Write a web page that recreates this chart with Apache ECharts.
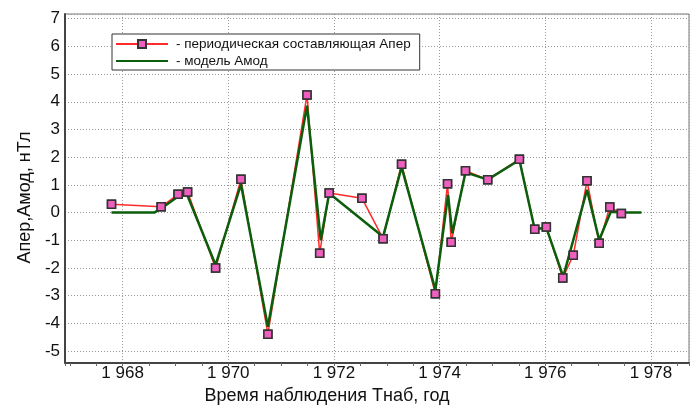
<!DOCTYPE html>
<html>
<head>
<meta charset="utf-8">
<script src="https://cdn.jsdelivr.net/npm/echarts@6/dist/echarts.min.js"></script>
<style>
  html, body { margin: 0; padding: 0; background: #fff; }
  #chart { width: 692px; height: 419px; }
</style>
</head>
<body>
<div id="chart"></div>
<script>
// периодическая составляющая Апер (годы, нТл)
var aperYears = [1967.79, 1968.73, 1969.05, 1969.23, 1969.76, 1970.24, 1970.75, 1971.49, 1971.73, 1971.91,
                 1972.53, 1972.93, 1973.28, 1973.92, 1974.15, 1974.22, 1974.49, 1974.91, 1975.51, 1975.80,
                 1976.02, 1976.33, 1976.53, 1976.79, 1977.02, 1977.22, 1977.44];
var aperValues = [0.30, 0.21, 0.66, 0.74, -2.00, 1.20, -4.39, 4.25, -1.47, 0.71,
                  0.52, -0.94, 1.75, -2.93, 1.04, -1.07, 1.51, 1.19, 1.93, -0.60,
                  -0.52, -2.36, -1.54, 1.15, -1.11, 0.20, -0.03];

// модель Амод
var amodYears = [1967.79, 1968.60, 1968.73, 1969.05, 1969.21, 1969.76, 1970.24, 1970.75, 1971.49, 1971.75,
                 1971.91, 1972.93, 1973.28, 1973.92, 1974.16, 1974.24, 1974.49, 1974.91, 1975.51, 1975.80,
                 1976.02, 1976.34, 1976.79, 1977.02, 1977.24, 1977.44, 1977.82];
var amodValues = [0.00, 0.00, 0.15, 0.58, 0.70, -1.89, 1.02, -4.12, 3.86, -0.99,
                  0.70, -0.87, 1.64, -2.79, 0.64, -0.75, 1.45, 1.19, 1.90, -0.60,
                  -0.55, -2.31, 0.82, -0.99, 0.03, 0.00, 0.00];

var aperName = '- периодическая составляющая Апер';
var amodName = '- модель Амод';

function pairs(xs, ys) {
    var out = [];
    for (var i = 0; i < xs.length; i++) out.push([xs[i], ys[i]]);
    return out;
}

var aperData = pairs(aperYears, aperValues);
var amodData = pairs(amodYears, amodValues);

var xMin = 1966.91, xMax = 1978.72;
var yMin = -5.43, yMax = 7.17;

var chart = echarts.init(document.getElementById('chart'), null, {renderer: 'canvas'});

var option = {
    animation: false,
    textStyle: { fontFamily: 'Liberation Sans, Arial, sans-serif' },
    grid: {
        left: 65, right: -1, top: 14, bottom: 56,
        show: true,
        borderColor: '#777',
        borderWidth: 1
    },
    legend: {
        data: [
            { name: aperName },
            { name: amodName, itemStyle: { opacity: 0 } }
        ],
        orient: 'vertical',
        left: 112,
        top: 34,
        itemWidth: 52,
        itemHeight: 10,
        itemGap: 3,
        padding: [3, 9, 2, 3],
        backgroundColor: '#fff',
        borderColor: '#333',
        borderWidth: 1,
        borderRadius: 0,
        textStyle: {
            fontSize: 13.5,
            color: '#111',
            padding: [0, 0, 0, 3]
        }
    },
    xAxis: [
        {
            type: 'value',
            position: 'bottom',
            min: xMin,
            max: xMax,
            splitNumber: 6,
            name: 'Время наблюдения Тнаб, год',
            nameLocation: 'middle',
            nameGap: 16,
            nameTextStyle: {
                fontSize: 18,
                color: '#111',
                padding: [0, 100, 0, 0]
            },
            axisLine: { onZero: false, lineStyle: { color: '#444', width: 2 } },
            axisTick: { show: false },
            axisLabel: {
                fontSize: 17,
                color: '#111',
                margin: 2,
                showMinLabel: true,
                showMaxLabel: true,
                formatter: function (v) {
                    var r = Math.round(v);
                    if (Math.abs(v - r) > 1e-6 || r % 2 !== 0) return '';
                    var s = String(r);
                    return s.charAt(0) + ' ' + s.slice(1);
                }
            },
            splitLine: {
                show: true,
                lineStyle: { color: '#999', type: [1, 2], width: 1 }
            }
        },
        {
            type: 'value',
            position: 'bottom',
            min: xMin,
            max: xMax,
            splitNumber: 24,
            axisLine: { show: false, onZero: false },
            axisTick: { show: true, length: 3, lineStyle: { color: '#666' } },
            axisLabel: { show: false },
            splitLine: { show: false }
        }
    ],
    yAxis: {
        type: 'value',
        min: yMin,
        max: yMax,
        splitNumber: 12,
        name: 'Апер,Амод, нТл',
        nameLocation: 'middle',
        nameGap: 31,
        nameRotate: 90,
        nameTextStyle: {
            fontSize: 18,
            color: '#111',
            padding: [0, 18, 0, 0]
        },
        axisLine: { show: true, onZero: false, lineStyle: { color: '#444', width: 2 } },
        axisTick: { show: false },
        axisLabel: {
            fontSize: 17,
            color: '#111',
            margin: 5,
            formatter: function (v) {
                var r = Math.round(v);
                if (Math.abs(v - r) > 1e-6) return '';
                return String(r);
            }
        },
        splitLine: {
            show: true,
            lineStyle: { color: '#999', type: [1, 2], width: 1 }
        }
    },
    series: [
        {
            name: aperName,
            type: 'line',
            data: aperData,
            z: 2,
            symbol: 'rect',
            symbolSize: 8,
            showAllSymbol: true,
            lineStyle: { color: '#ff2a2a', width: 1.5 },
            itemStyle: { color: '#ee5fbf', borderColor: '#333', borderWidth: 1.5 }
        },
        {
            name: amodName,
            type: 'line',
            data: amodData,
            z: 3,
            symbol: 'none',
            lineStyle: { color: '#0b5e0b', width: 2.5 },
            itemStyle: { color: '#0b5e0b' }
        },
        {
            name: 'markers',
            type: 'scatter',
            data: aperData,
            z: 4,
            symbol: 'rect',
            symbolSize: 8,
            itemStyle: { color: '#ee5fbf', borderColor: '#333', borderWidth: 1.5, opacity: 1 }
        }
    ]
};

chart.setOption(option);
</script>
</body>
</html>
